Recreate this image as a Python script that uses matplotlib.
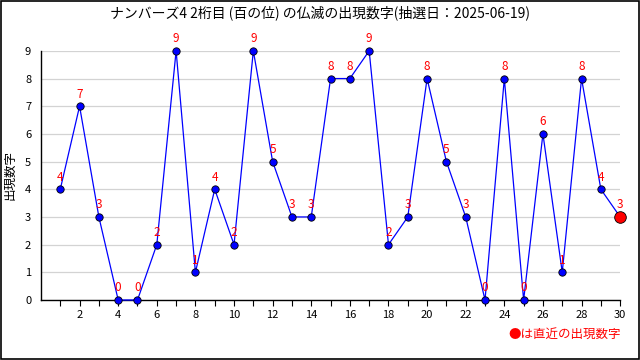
import matplotlib
matplotlib.use("Agg")
import matplotlib.pyplot as plt
from matplotlib.patches import Rectangle

plt.rcParams['font.family'] = ['Noto Sans CJK JP', 'DejaVu Sans']

draws = list(range(1, 31))
values = [4, 7, 3, 0, 0, 2, 9, 1, 4, 2, 9, 5, 3, 3, 8, 8, 9, 2, 3, 8, 5, 3, 0, 8, 0, 6, 1, 8, 4, 3]
title = "ナンバーズ4 2桁目 (百の位) の仏滅の出現数字(抽選日：2025-06-19)"
ylabel = "出現数字"
note = "●は直近の出現数字"

fig = plt.figure(figsize=(6.4, 3.6), dpi=100)
fig.patches.append(Rectangle((0.0015, 0.002), 0.997, 0.995, transform=fig.transFigure,
                             fill=False, edgecolor='black', linewidth=1.2))
ax = fig.add_axes([0.064, 0.1667, 0.905, 0.692])

ax.plot(draws, values, color='blue', linewidth=0.9, zorder=3, clip_on=False)
ax.scatter(draws[:-1], values[:-1], s=28, color='blue', edgecolors='black', linewidths=0.6,
           zorder=4, clip_on=False)
ax.scatter(draws[-1:], values[-1:], s=70, color='red', edgecolors='black', linewidths=0.6,
           zorder=5, clip_on=False)
for x, v in zip(draws, values):
    ax.annotate(str(v), (x, v), xytext=(0, 4), textcoords='offset points',
                ha='center', va='bottom', color='red', fontsize=8.5, zorder=6,
                annotation_clip=False)

ax.set_xlim(0, 30)
ax.set_ylim(0, 9)
ax.set_yticks(range(0, 10))
ax.set_xticks(range(1, 31))
ax.set_xticklabels([str(i) if i % 2 == 0 else '' for i in range(1, 31)])
ax.tick_params(axis='both', labelsize=8, length=4, color='black')
ax.tick_params(axis='y', length=0, pad=7)
ax.grid(axis='y', color='#d3d3d3', linewidth=0.9)
ax.set_axisbelow(True)
for s in ['top', 'right']:
    ax.spines[s].set_visible(False)
ax.spines['left'].set_linewidth(1)
ax.spines['bottom'].set_linewidth(1)
ax.set_ylabel(ylabel, fontsize=9, labelpad=6)
fig.text(0.5, 0.965, title, ha='center', va='center', fontsize=10)
fig.text(0.97, 0.07, note, ha='right', va='center', fontsize=9, color='red')

fig.savefig('out.png', dpi=100)
